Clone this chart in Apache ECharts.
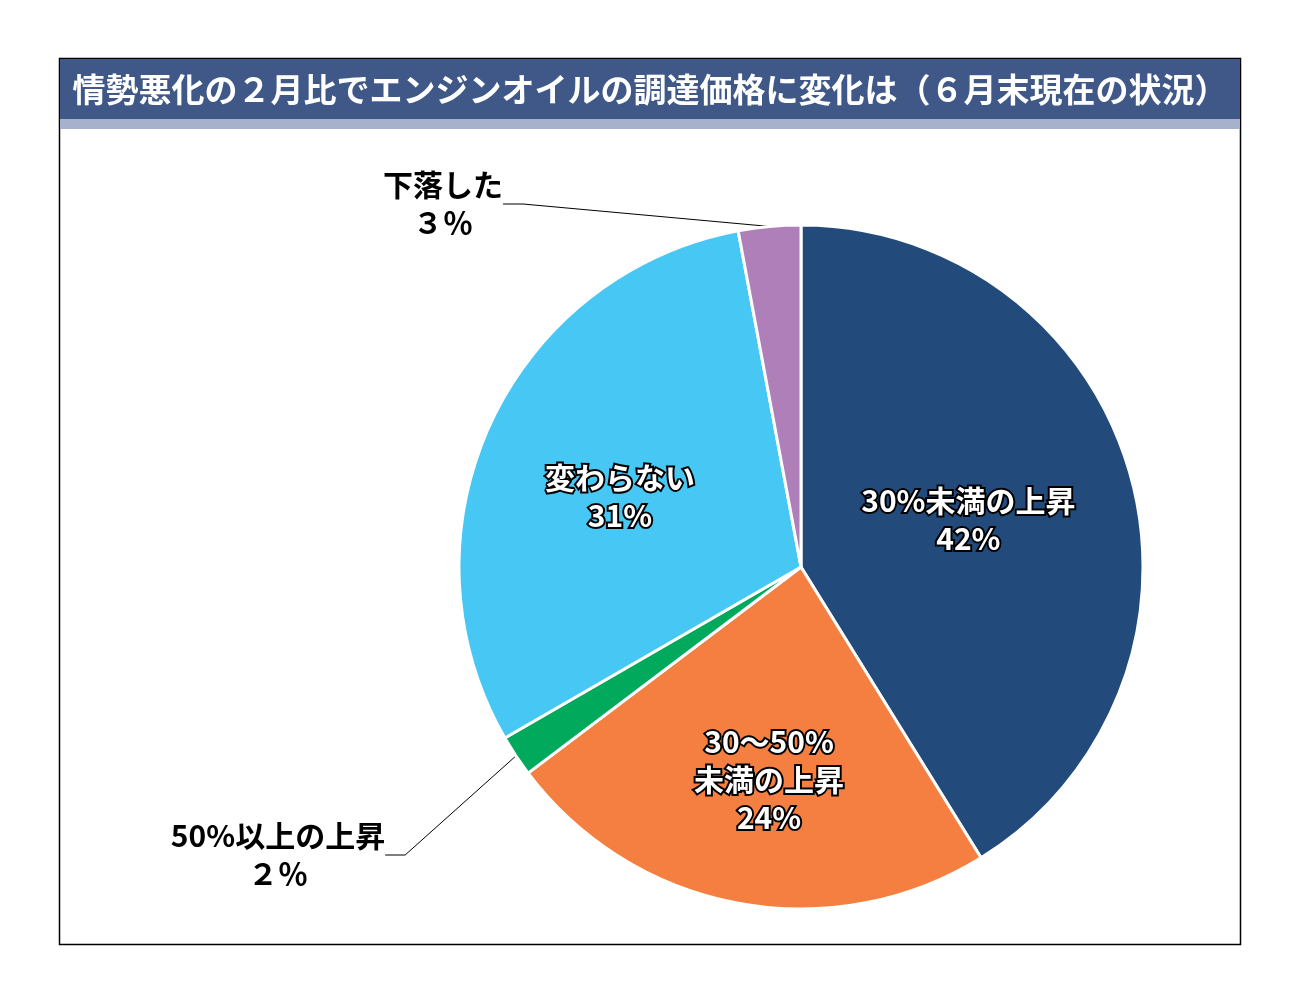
<!DOCTYPE html>
<html><head><meta charset="utf-8">
<script src="https://cdn.jsdelivr.net/npm/echarts@6/dist/echarts.min.js"></script>
<style>html,body{margin:0;background:#fff}#c{width:1299px;height:1004px}</style>
</head><body><div id="c"></div>
<script>
var titleText = '情勢悪化の２月比でエンジンオイルの調達価格に変化は（６月末現在の状況）';
var names = ['30%未満の上昇', '30～50%\n未満の上昇', '50%以上の上昇', '変わらない', '下落した'];
var pcts = ['42%', '24%', '２％', '31%', '３％'];
var values = [42, 24, 2, 31, 3];
var colors = ['#224b7c', '#f47f40', '#00a95c', '#47c7f4', '#ae7fb8'];

var chart = echarts.init(document.getElementById('c'));
var font = '"Noto Sans CJK JP", sans-serif';
var data = [];
for (var i = 0; i < values.length; i++) {
  var outside = (i == 2 || i == 4);
  data.push({
    value: values[i], name: names[i],
    itemStyle: {color: colors[i]},
    label: outside ? {position: 'outside', color: '#000', textBorderWidth: 0} : {position: 'inside'},
    labelLine: {show: outside}
  });
}
chart.setOption({
  animation: false,
  graphic: [
    {type: 'rect', shape: {x: 59.5, y: 58.5, width: 1181, height: 886}, style: {fill: '#fff', stroke: '#000', lineWidth: 1.5}},
    {type: 'rect', shape: {x: 60, y: 59, width: 1180, height: 60}, style: {fill: '#3f5888'}},
    {type: 'rect', shape: {x: 60, y: 119, width: 1180, height: 10}, style: {fill: '#a6b1cb'}},
    {type: 'text', x: 650, y: 89, style: {text: titleText, fill: '#fff', font: 'bold 33px ' + font, align: 'center', verticalAlign: 'middle'}}
  ],
  series: [{
    type: 'pie', center: [801, 567], radius: 342, startAngle: 90, clockwise: true,
    itemStyle: {borderColor: '#fff', borderWidth: 3},
    label: {
      formatter: function (p) { return p.name + '\n' + pcts[p.dataIndex]; },
      fontFamily: font, fontWeight: 'bold', fontSize: 30, lineHeight: 38, align: 'center',
      color: '#fff', textBorderColor: '#000', textBorderWidth: 4
    },
    labelLine: {lineStyle: {color: '#000', width: 1}, length: 15, length2: 20},
    labelLayout: function (p) {
      if (p.dataIndex == 4) return {x: 443, y: 204, align: 'center', verticalAlign: 'middle'};
      if (p.dataIndex == 2) return {x: 278, y: 855, align: 'center', verticalAlign: 'middle'};
      if (p.dataIndex == 1) return {y: 780};
      if (p.dataIndex == 3) return {x: 620, y: 497};
      return {};
    },
    data: data
  }]
});
</script></body></html>
